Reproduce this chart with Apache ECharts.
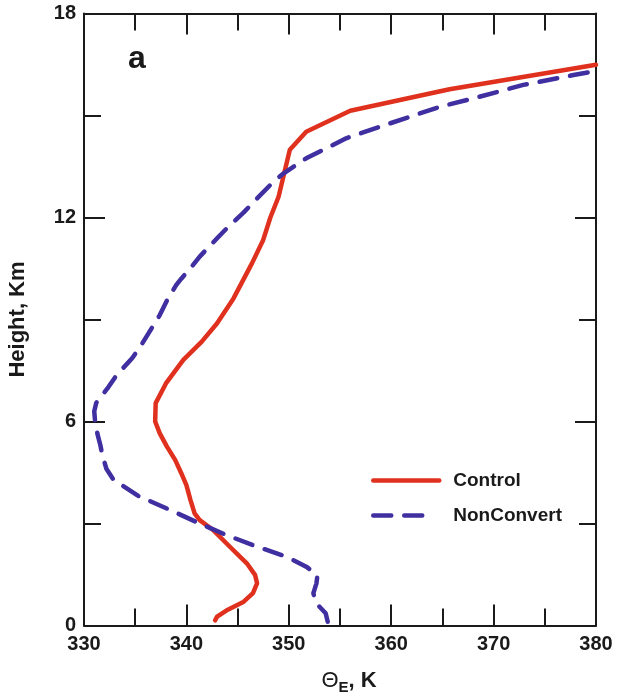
<!DOCTYPE html>
<html>
<head>
<meta charset="utf-8">
<script src="https://cdn.jsdelivr.net/npm/echarts@6/dist/echarts.min.js"></script>
<style>
  html, body { margin: 0; padding: 0; background: #fff; }
  #chart { width: 619px; height: 698px; }
</style>
</head>
<body>
<div id="chart"></div>
<script>
// equivalent potential temperature (K) and height (km)
var controlTheta = [342.8, 343.0, 343.9, 345.6, 346.5, 346.9, 346.7, 345.9, 344.9, 343.9,
  342.6, 341.3, 340.8, 340.4, 340.0, 339.5, 338.9, 338.1, 337.4, 336.95,
  337.0, 338.0, 339.7, 341.5, 343.0, 344.6, 346.4, 347.5, 348.2, 349.0,
  350.1, 351.7, 356.0, 365.7, 380.0];
var controlHeight = [0.15, 0.26, 0.44, 0.7, 0.95, 1.24, 1.49, 1.83, 2.12, 2.42,
  2.81, 3.1, 3.3, 3.69, 4.13, 4.48, 4.87, 5.26, 5.65, 6.0,
  6.54, 7.12, 7.81, 8.35, 8.89, 9.62, 10.65, 11.34, 12.0, 12.61,
  13.99, 14.52, 15.14, 15.77, 16.49];

var nonConvertTheta = [353.8, 353.6, 353.0, 352.6, 352.4, 352.7, 352.8, 351.7, 349.8, 346.9,
  343.9, 341.3, 338.4, 335.3, 332.9, 332.2, 331.8, 331.6, 331.3, 331.1,
  331.0, 331.2, 332.4, 333.2, 334.7, 335.6, 336.6, 337.4, 338.2, 339.0,
  339.5, 340.4, 341.3, 343.0, 344.1, 345.6, 346.9, 348.5, 349.5, 351.7,
  355.6, 358.9, 364.8, 368.0, 372.9, 377.8, 379.8];
var nonConvertHeight = [0.11, 0.36, 0.55, 0.7, 0.95, 1.24, 1.49, 1.73, 2.02, 2.32,
  2.66, 3.0, 3.4, 3.81, 4.28, 4.6, 5.0, 5.3, 5.65, 5.95,
  6.3, 6.55, 7.02, 7.37, 7.86, 8.25, 8.74, 9.13, 9.62, 10.01,
  10.2, 10.51, 10.85, 11.39, 11.73, 12.15, 12.56, 13.05, 13.3, 13.74,
  14.33, 14.67, 15.26, 15.5, 15.9, 16.19, 16.3];

var seriesNames = ["Control", "NonConvert"];

var font = "'Liberation Sans', Arial, Helvetica, sans-serif";

function pairs(xs, ys) {
  return xs.map(function (x, i) { return [x, ys[i]]; });
}

var chart = echarts.init(document.getElementById("chart"));

// shared look for the four frame axes
function frameAxis(extra) {
  var base = {
    type: "value",
    axisLine: { show: true, onZero: false, lineStyle: { color: "#1a1a1a", width: 2 } },
    axisTick: { show: true, inside: true, length: 21, lineStyle: { color: "#1a1a1a", width: 2 } },
    minorTick: { show: true, splitNumber: 2, length: 17, lineStyle: { color: "#1a1a1a", width: 2 } },
    splitLine: { show: false },
    axisLabel: {
      color: "#1a1a1a",
      fontFamily: font,
      fontWeight: "bold",
      fontSize: 20
    }
  };
  return Object.assign(base, extra);
}

chart.setOption({
  animation: false,
  grid: { left: 84, right: 23, top: 13.5, bottom: 72.5, containLabel: false, outerBoundsMode: "none" },
  graphic: [{
    type: "text",
    left: 128,
    top: 43,
    style: { text: "a", font: "bold 32px " + font, fill: "#1a1a1a" }
  }],
  legend: {
    orient: "vertical",
    left: 366,
    top: 466,
    itemWidth: 66,
    itemHeight: 18,
    itemGap: 16,
    data: [
      { name: seriesNames[0] },
      { name: seriesNames[1], lineStyle: { type: [18, 13, 18, 60] } }
    ],
    itemStyle: { opacity: 0 },
    lineStyle: { width: 4.5 },
    textStyle: {
      color: "#1a1a1a",
      fontFamily: font,
      fontWeight: "bold",
      fontSize: 19,
      padding: [0, 0, 0, 9]
    }
  },
  xAxis: [
    frameAxis({
      position: "bottom",
      min: 330,
      max: 380,
      interval: 10,
      name: "{g|Θ}{s|E}{t|, K}",
      nameLocation: "middle",
      nameGap: 41,
      nameTextStyle: {
        padding: [0, 0, 0, 18],
        rich: {
          g: { fontFamily: font, fontWeight: "normal", fontSize: 22, color: "#1a1a1a" },
          t: { fontFamily: font, fontWeight: "bold", fontSize: 22, color: "#1a1a1a" },
          s: { fontFamily: font, fontWeight: "bold", fontSize: 15, color: "#1a1a1a", verticalAlign: "bottom", padding: [14, 0, 0, 0] }
        }
      },
      axisLabel: { color: "#1a1a1a", fontFamily: font, fontWeight: "bold", fontSize: 20, margin: 9 }
    }),
    frameAxis({
      position: "top",
      min: 330,
      max: 380,
      interval: 10,
      axisLabel: { show: false }
    })
  ],
  yAxis: [
    frameAxis({
      position: "left",
      min: 0,
      max: 18,
      interval: 6,
      name: "Height, Km",
      nameLocation: "middle",
      nameGap: 55,
      nameTextStyle: { fontFamily: font, fontWeight: "bold", fontSize: 22, color: "#1a1a1a" },
      axisLabel: { color: "#1a1a1a", fontFamily: font, fontWeight: "bold", fontSize: 20, margin: 8 }
    }),
    frameAxis({
      position: "right",
      min: 0,
      max: 18,
      interval: 6,
      axisLabel: { show: false }
    })
  ],
  series: [
    {
      name: seriesNames[0],
      type: "line",
      showSymbol: false,
      symbol: "none",
      data: pairs(controlTheta, controlHeight),
      lineStyle: { color: "#e0301e", width: 4.5, cap: "round", join: "round" },
      itemStyle: { color: "#e0301e" }
    },
    {
      name: seriesNames[1],
      type: "line",
      showSymbol: false,
      symbol: "none",
      data: pairs(nonConvertTheta, nonConvertHeight),
      lineStyle: { color: "#3f2fa0", width: 4.5, type: [18, 13], cap: "round", join: "round" },
      itemStyle: { color: "#3f2fa0" }
    }
  ]
});
</script>
</body>
</html>
